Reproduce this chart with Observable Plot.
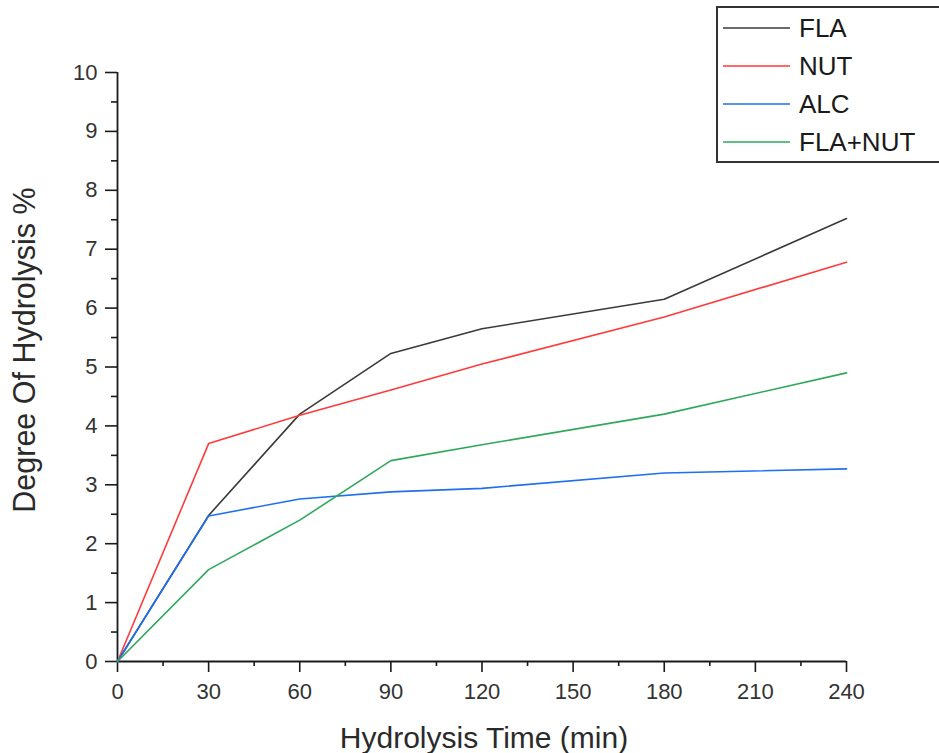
<!DOCTYPE html>
<html>
<head>
<meta charset="utf-8">
<script src="https://cdn.jsdelivr.net/npm/d3@7"></script>
<script src="https://cdn.jsdelivr.net/npm/@observablehq/plot@0.6"></script>
<style>
  html, body { margin: 0; padding: 0; background: #fff; }
  #chart { width: 939px; height: 753px; }
</style>
</head>
<body>
<div id="chart"></div>
<script>
const time = [0, 30, 60, 90, 120, 180, 240];
const FLA = [0, 2.48, 4.2, 5.23, 5.65, 6.15, 7.52];
const NUT = [0, 3.7, 4.18, 4.61, 5.05, 5.85, 6.78];
const ALC = [0, 2.47, 2.76, 2.88, 2.94, 3.2, 3.27];
const FLA_NUT = [0, 1.56, 2.4, 3.41, 3.68, 4.2, 4.9];

const seriesNames = ["FLA", "NUT", "ALC", "FLA+NUT"];
const seriesValues = [FLA, NUT, ALC, FLA_NUT];
const seriesColors = ["#3a3a3a", "#ff3a3a", "#1f6ff2", "#2fa85a"];

const xMajor = [0, 30, 60, 90, 120, 150, 180, 210, 240];
const xMinor = [15, 45, 75, 105, 135, 165, 195, 225];
const yMajor = [0, 1, 2, 3, 4, 5, 6, 7, 8, 9, 10];
const yMinor = [0.5, 1.5, 2.5, 3.5, 4.5, 5.5, 6.5, 7.5, 8.5, 9.5];

const rows = [];
seriesNames.forEach((name, i) => {
  time.forEach((t, j) => rows.push({series: name, t, v: seriesValues[i][j]}));
});

const font = "'Liberation Sans', Arial, sans-serif";
const axisColor = "#1a1a1a";

const chart = Plot.plot({
  width: 939,
  height: 753,
  marginLeft: 117,
  marginRight: 93,
  marginTop: 72,
  marginBottom: 92,
  style: {fontFamily: font, background: "#fff", color: axisColor, overflow: "visible"},
  x: {domain: [0, 240]},
  y: {domain: [0, 10]},
  color: {domain: seriesNames, range: seriesColors},
  marks: [
    Plot.axisX({ticks: xMajor, tickSize: 11, tickPadding: 11, fontSize: 22, label: null, stroke: axisColor, strokeWidth: 1.6, fill: "#333"}),
    Plot.axisX({ticks: xMinor, tickSize: 5, tickFormat: () => "", label: null, stroke: axisColor, strokeWidth: 1.6}),
    Plot.axisY({ticks: yMajor, tickSize: 12, tickPadding: 8, fontSize: 22, label: null, stroke: axisColor, strokeWidth: 1.6, fill: "#333"}),
    Plot.axisY({ticks: yMinor, tickSize: 6, tickFormat: () => "", label: null, stroke: axisColor, strokeWidth: 1.6}),
    Plot.ruleY([0], {stroke: axisColor, strokeWidth: 1.8}),
    Plot.ruleX([0], {stroke: axisColor, strokeWidth: 1.8}),
    Plot.line(rows, {x: "t", y: "v", z: "series", stroke: "series", strokeWidth: 1.6})
  ]
});

const svg = d3.select(chart);

// Axis titles
svg.append("text")
  .attr("x", 484).attr("y", 748)
  .attr("text-anchor", "middle")
  .attr("font-family", font).attr("font-size", 30)
  .attr("fill", "#2a2a2a")
  .text("Hydrolysis Time (min)");

svg.append("text")
  .attr("transform", "translate(35,350) rotate(-90)")
  .attr("text-anchor", "middle")
  .attr("font-family", font).attr("font-size", 30.5)
  .attr("fill", "#2a2a2a")
  .text("Degree Of Hydrolysis %");

// Legend
const lg = svg.append("g");
lg.append("rect")
  .attr("x", 717).attr("y", 7).attr("width", 240).attr("height", 155)
  .attr("fill", "#fff").attr("stroke", "#333").attr("stroke-width", 2);
const rowY = [28, 66, 104, 142];
seriesNames.forEach((name, i) => {
  lg.append("line")
    .attr("x1", 723).attr("x2", 790)
    .attr("y1", rowY[i]).attr("y2", rowY[i])
    .attr("stroke", seriesColors[i]).attr("stroke-width", 1.6);
  lg.append("text")
    .attr("x", 799).attr("y", rowY[i])
    .attr("dy", "0.36em")
    .attr("text-anchor", "start")
    .attr("font-family", font).attr("font-size", 26)
    .attr("fill", "#1a1a1a")
    .text(name);
});

document.getElementById("chart").appendChild(chart);
</script>
</body>
</html>
